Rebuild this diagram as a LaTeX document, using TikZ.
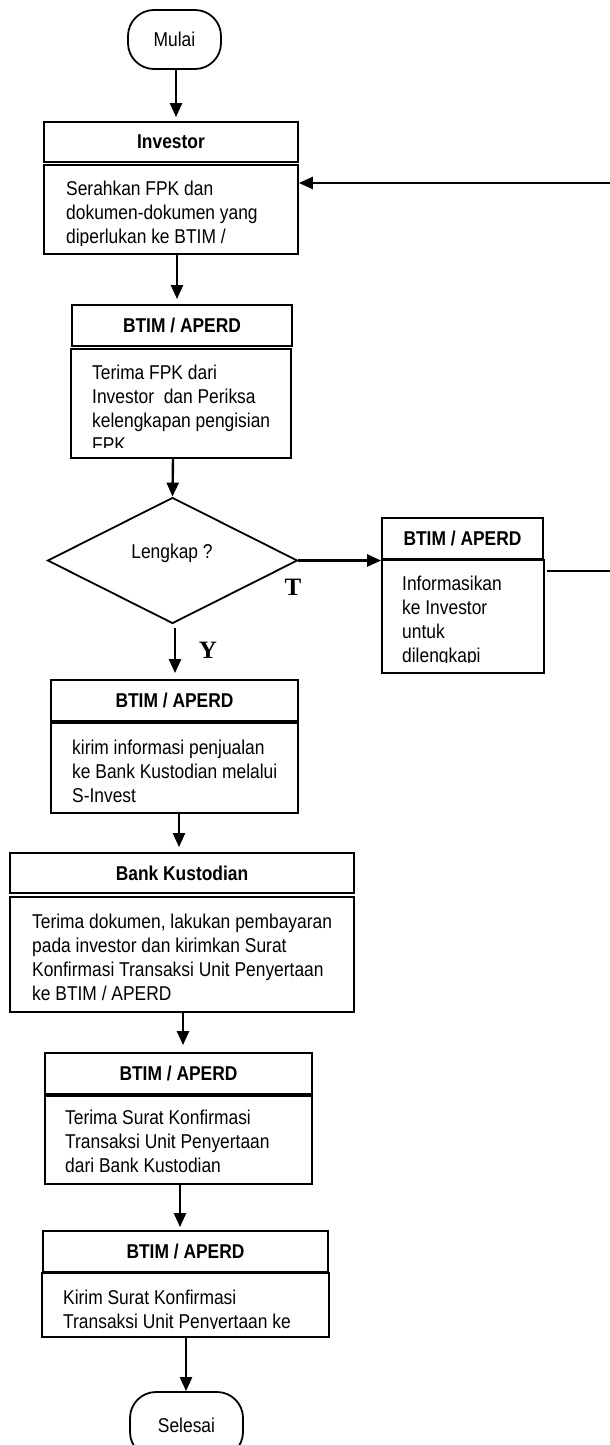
\documentclass[tikz,border=0pt]{standalone}
\usepackage{fontspec}
\setmainfont{Liberation Sans}[FakeStretch=0.87]
\newfontfamily\lblfont{Liberation Serif}
\usetikzlibrary{arrows.meta,shapes.geometric}
\tikzset{
  boxline/.style={draw=black, line width=1.8pt},
  hdr/.style={boxline, rectangle, inner sep=0pt, font=\fontsize{20}{24}\selectfont\bfseries},
  bodybox/.style={boxline, rectangle, inner sep=0pt},
  bodytext/.style={anchor=north west, inner sep=0pt, align=left, font=\fontsize{20}{24}\selectfont},
  flow/.style={line width=2.4pt, -{Triangle[length=14pt,width=12pt]}},
  plainline/.style={line width=2.2pt},
  term/.style={boxline, rectangle, rounded corners=26pt, inner sep=0pt, font=\fontsize{20}{24}\selectfont},
  decision/.style={boxline, diamond, inner sep=0pt},
  plaintext/.style={inner sep=0pt, font=\fontsize{20}{24}\selectfont},
  yn/.style={inner sep=0pt, font=\fontsize{25}{28}\lblfont\bfseries}
}
\begin{document}
\begin{tikzpicture}[x=1pt,y=-1pt]
\clip (0,0) rectangle (610,1445);
\fill[white] (0,0) rectangle (610,1445);

% Mulai
\node[term, minimum width=93pt, minimum height=59pt] (mulai) at (174.5,39.5) {Mulai};

% Investor
\node[hdr, minimum width=254pt, minimum height=40pt] (invh) at (171,142) {Investor};
\node[bodybox, minimum width=254pt, minimum height=89pt] (invb) at (171,209.5) {};
\begin{scope}
  \clip (44,165) rectangle (298,245);
  \node[bodytext] (invt) at (66,178.2) {\strut Serahkan FPK dan\\\strut dokumen-dokumen yang\\\strut diperlukan ke BTIM /};
\end{scope}

% BTIM 1
\node[hdr, minimum width=220pt, minimum height=41pt] (b1h) at (182,325.5) {BTIM / APERD};
\node[bodybox, minimum width=220pt, minimum height=109pt] (b1b) at (181,403.5) {};
\begin{scope}
  \clip (71,349) rectangle (291,447);
  \node[bodytext] (b1t) at (92,362.2) {\strut Terima FPK dari\\\strut Investor\ \ dan Periksa\\\strut kelengkapan pengisian\\\strut FPK};
\end{scope}

% Decision
\node[decision, minimum width=250pt, minimum height=126pt] (dec) at (172.5,560.5) {};
\node[plaintext] (dect) at (172,553) {Lengkap ?};
\node[yn] (tlab) at (293,587) {T};
\node[yn] (ylab) at (208,650) {Y};

% Right box
\node[hdr, minimum width=161pt, minimum height=41pt] (rh) at (462.5,538.5) {BTIM / APERD};
\node[bodybox, minimum width=162pt, minimum height=113pt] (rb) at (463,616.5) {};
\begin{scope}
  \clip (382,560) rectangle (544,662);
  \node[bodytext] (rt) at (402,573.2) {\strut Informasikan\\\strut ke Investor\\\strut untuk\\\strut dilengkapi};
\end{scope}

% BTIM 2
\node[hdr, minimum width=247pt, minimum height=41pt] (b2h) at (174.5,700.5) {BTIM / APERD};
\node[bodybox, minimum width=247pt, minimum height=90pt] (b2b) at (174.5,768) {};
\begin{scope}
  \clip (51,723) rectangle (298,803);
  \node[bodytext] (b2t) at (72,737.2) {\strut kirim informasi penjualan\\\strut ke Bank Kustodian melalui\\\strut S-Invest};
\end{scope}

% Bank Kustodian
\node[hdr, minimum width=344pt, minimum height=40pt] (bkh) at (182,873) {Bank Kustodian};
\node[bodybox, minimum width=344pt, minimum height=115pt] (bkb) at (182,954.5) {};
\node[bodytext] (bkt) at (32,911.2) {\strut Terima dokumen, lakukan pembayaran\\\strut pada investor dan kirimkan Surat\\\strut Konfirmasi Transaksi Unit Penyertaan\\\strut ke BTIM / APERD};

% BTIM 3
\node[hdr, minimum width=267pt, minimum height=41pt] (b3h) at (178.5,1073.5) {BTIM / APERD};
\node[bodybox, minimum width=267pt, minimum height=88pt] (b3b) at (178.5,1140) {};
\node[bodytext] (b3t) at (65,1107.2) {\strut Terima Surat Konfirmasi\\\strut Transaksi Unit Penyertaan\\\strut dari Bank Kustodian};

% BTIM 4
\node[hdr, minimum width=285pt, minimum height=41pt] (b4h) at (185.5,1251.5) {BTIM / APERD};
\node[bodybox, minimum width=287pt, minimum height=64pt] (b4b) at (185.5,1305) {};
\begin{scope}
  \clip (42,1273) rectangle (329,1328.5);
  \node[bodytext] (b4t) at (63,1287.2) {\strut Kirim Surat Konfirmasi\\\strut Transaksi Unit Penyertaan ke};
\end{scope}

% Selesai
\node[term, minimum width=113pt, minimum height=66pt] (selesai) at (186.5,1425) {Selesai};

% Connectors
\draw[flow, shorten >=4pt] (176,0 |- mulai.south) -- (176,0 |- invh.north);
\draw[flow, shorten >=5pt] (177,0 |- invb.south) -- (177,0 |- b1h.north);
\draw[flow] (173,0 |- b1b.south) -- (dec.north);
\draw[flow] (dec.east) -- (dec.east -| rb.west);
\draw[flow, shorten <=4pt, shorten >=6pt] (175,0 |- dec.south) -- (175,0 |- b2h.north);
\draw[flow, shorten >=5pt] (179,0 |- b2b.south) -- (179,0 |- bkh.north);
\draw[flow, shorten >=7pt] (183,0 |- bkb.south) -- (183,0 |- b3h.north);
\draw[flow, shorten >=3pt] (180,0 |- b3b.south) -- (180,0 |- b4h.north);
\draw[flow] (186,0 |- b4b.south) -- (186,0 |- selesai.north);

\coordinate (fbstart) at (610,183);
\draw[flow] (fbstart) -- (fbstart -| invb.east);
\coordinate (stubstart) at (547,571);
\coordinate (stubend) at (610,571);
\draw[plainline] (stubstart) -- (stubend);
\end{tikzpicture}
\end{document}
